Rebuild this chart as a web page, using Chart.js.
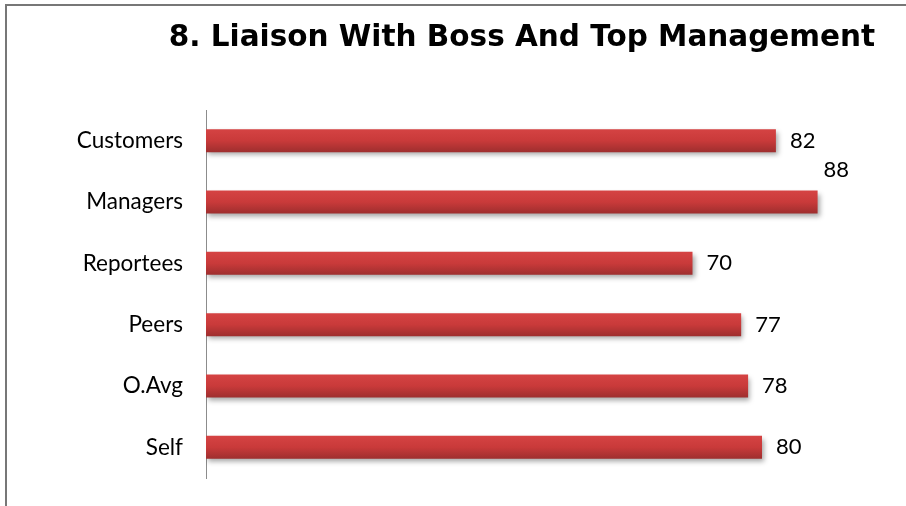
<!DOCTYPE html>
<html>
<head>
<meta charset="utf-8">
<script src="https://cdn.jsdelivr.net/npm/chart.js@4.4.1/dist/chart.umd.min.js"></script>
<style>
    html, body { margin: 0; padding: 0; background: #fff; }
    #wrap { position: relative; width: 906px; height: 506px; overflow: hidden; }
    #frame {
        position: absolute; left: 5px; top: 4px; right: -10px; bottom: -10px;
        border-left: 2px solid #777; border-top: 2px solid #777;
    }
    canvas { position: absolute; left: 0; top: 0; }
</style>
</head>
<body>
<div id="wrap">
    <div id="frame"></div>
    <canvas id="barChart" width="906" height="506"></canvas>
</div>
<script>
"use strict"

// kategorier och värden, uppifrån och ner
const categories = ['Customers', 'Managers', 'Reportees', 'Peers', 'O.Avg', 'Self'];
const scores = [82, 88, 70, 77, 78, 80];
const chartTitle = '8. Liaison With Boss And Top Management';

const labelFont = '"Lato", "Open Sans", sans-serif';

// gradient per stapel, ljusare upptill och mörkare nedtill
function barGradient(context) {
    const chart = context.chart;
    const yScale = chart.scales.y;
    if (!yScale || context.dataIndex === undefined) return '#c83a3a';
    const center = yScale.getPixelForValue(context.dataIndex);
    const half = (yScale.height / categories.length) * 0.375 / 2;
    if (!Number.isFinite(center) || !Number.isFinite(half) || half <= 0) return '#c83a3a';
    const g = chart.ctx.createLinearGradient(0, center - half, 0, center + half);
    g.addColorStop(0, '#d54343');
    g.addColorStop(0.5, '#c93a3a');
    g.addColorStop(1, '#9e2e2e');
    return g;
}

// skugga under staplarna
const barShadow = {
    id: 'barShadow',
    beforeDatasetsDraw(chart) {
        const ctx = chart.ctx;
        ctx.save();
        ctx.shadowColor = 'rgba(0, 0, 0, 0.35)';
        ctx.shadowBlur = 5;
        ctx.shadowOffsetX = 2;
        ctx.shadowOffsetY = 3;
    },
    afterDatasetsDraw(chart) {
        chart.ctx.restore();
    }
};

// värdetexter bredvid staplarna, högsta värdet lyfts upp ovanför
const valueLabels = {
    id: 'valueLabels',
    afterDraw(chart) {
        const ctx = chart.ctx;
        const meta = chart.getDatasetMeta(0);
        const top = Math.max(...scores);
        ctx.save();
        ctx.font = '22px ' + labelFont;
        ctx.fillStyle = '#000';
        ctx.textBaseline = 'middle';
        ctx.textAlign = 'left';
        meta.data.forEach((bar, i) => {
            let x = bar.x + 14;
            let y = bar.y;
            if (scores[i] === top) {
                x = bar.x + 6;
                y = bar.y - 32;
            }
            ctx.fillText(String(scores[i]), x, y);
        });
        ctx.restore();
    }
};

// rubriken ovanför diagrammet
const titleText = {
    id: 'titleText',
    afterDraw(chart) {
        const ctx = chart.ctx;
        ctx.save();
        ctx.font = 'bold 29.5px "DejaVu Sans", Verdana, sans-serif';
        ctx.fillStyle = '#000';
        ctx.textAlign = 'center';
        ctx.textBaseline = 'middle';
        ctx.fillText(chartTitle, 522, 38);
        ctx.restore();
    }
};

new Chart(
    document.getElementById('barChart'),
    {
        type: 'bar',
        data: {
            labels: categories,
            datasets: [
                {
                    label: chartTitle,
                    data: scores,
                    backgroundColor: barGradient,
                    borderWidth: 0,
                    barPercentage: 0.75,
                    categoryPercentage: 0.5
                }
            ]
        },
        options: {
            indexAxis: 'y',
            responsive: false,
            animation: false,
            layout: { padding: { top: 110, right: 5, bottom: 28, left: 0 } },
            plugins: {
                legend: { display: false },
                tooltip: { enabled: false },
                title: { display: false }
            },
            scales: {
                x: {
                    display: false,
                    min: 0,
                    max: 100
                },
                y: {
                    grid: { display: false, drawTicks: false },
                    border: { display: true, color: '#8c8c8c', width: 1 },
                    ticks: {
                        color: '#000',
                        padding: 23,
                        font: { family: labelFont, size: 22.5 }
                    },
                    afterFit(scale) {
                        // fast bredd och ingen extra marginal för etiketterna
                        scale.width = 206;
                        scale.paddingTop = 0;
                        scale.paddingBottom = 0;
                    }
                }
            }
        },
        plugins: [barShadow, valueLabels, titleText]
    }
);
</script>
</body>
</html>
